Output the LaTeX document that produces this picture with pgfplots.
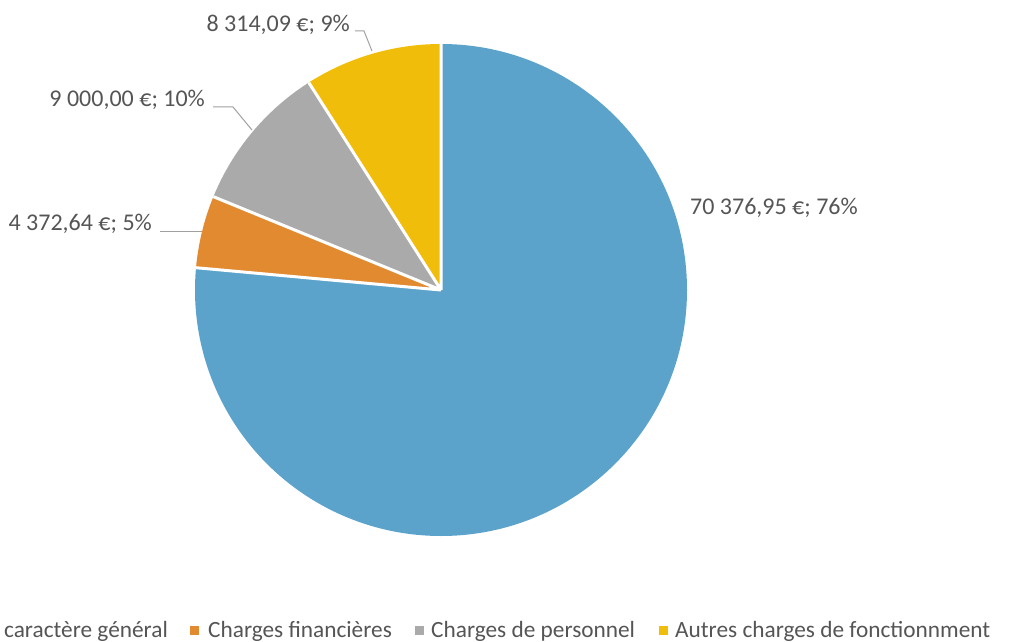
\documentclass[border=0pt]{standalone}
\usepackage{pgfplots}
\pgfplotsset{compat=1.18}
\usepackage{pgfplotstable}
\usepackage{fontspec}
\setmainfont{Carlito}

\definecolor{cblue}{RGB}{92,163,204}
\definecolor{corange}{RGB}{226,138,48}
\definecolor{cgray}{RGB}{170,170,170}
\definecolor{cyellow}{RGB}{240,190,10}
\definecolor{ctext}{RGB}{85,85,85}
\definecolor{cline}{RGB}{160,160,160}
\tikzset{lbl/.style={font=\fontsize{24}{28}\selectfont, text=ctext, inner sep=0pt},
         leg/.style={font=\fontsize{23.3}{28}\selectfont, text=ctext, inner sep=0pt}}

% montants en euros, dans l'ordre du graphique (sens horaire depuis midi)
\pgfplotstableread{
value
70376.95
4372.64
9000.00
8314.09
}\piedata

\begin{document}
\begin{tikzpicture}
\pgfplotstablegetelem{0}{value}\of\piedata \let\va\pgfplotsretval
\pgfplotstablegetelem{1}{value}\of\piedata \let\vb\pgfplotsretval
\pgfplotstablegetelem{2}{value}\of\piedata \let\vc\pgfplotsretval
\pgfplotstablegetelem{3}{value}\of\piedata \let\vd\pgfplotsretval
\edef\tot{\fpeval{\va+\vb+\vc+\vd}}
\edef\aA{\fpeval{90-360*\va/\tot}}
\edef\aB{\fpeval{\aA-360*\vb/\tot}}
\edef\aC{\fpeval{\aB-360*\vc/\tot}}
\edef\aD{\fpeval{\aC-360*\vd/\tot}}
\def\R{246pt}
\begin{axis}[
    at={(0,0)}, anchor=south west,
    width=1010pt, height=641pt, scale only axis,
    xmin=0, xmax=1010, ymin=0, ymax=641,
    hide axis, clip=false,
]
    \addplot[draw=none] coordinates {(0,0) (1010,641)};

    % parts
    \fill[cblue]   (axis cs:441,351) -- ++(90:\R)  arc[start angle=90,  end angle=\aA, radius=\R] -- cycle;
    \fill[corange] (axis cs:441,351) -- ++(\aA:\R) arc[start angle=\aA, end angle=\aB, radius=\R] -- cycle;
    \fill[cgray]   (axis cs:441,351) -- ++(\aB:\R) arc[start angle=\aB, end angle=\aC, radius=\R] -- cycle;
    \fill[cyellow] (axis cs:441,351) -- ++(\aC:\R) arc[start angle=\aC, end angle=\aD, radius=\R] -- cycle;
    % bordures blanches
    \draw[white, line width=3pt, line join=round]
        (axis cs:441,351) -- ++(90:\R)
        (axis cs:441,351) -- ++(\aA:\R)
        (axis cs:441,351) -- ++(\aB:\R)
        (axis cs:441,351) -- ++(\aC:\R);

    % etiquettes
    \node[lbl, anchor=base west] at (axis cs:690,426) {70 376,95 €; 76\%};
    \node[lbl, anchor=base east] at (axis cs:152,410) {4 372,64 €; 5\%};
    \node[lbl, anchor=base east] at (axis cs:205,534) {9 000,00 €; 10\%};
    \node[lbl, anchor=base east] at (axis cs:350,609) {8 314,09 €; 9\%};
    \draw[cline, line width=1pt] (axis cs:160,409) -- (axis cs:202,409);
    \draw[cline, line width=1pt] (axis cs:213,534) -- (axis cs:233,534) -- (axis cs:252,511);
    \draw[cline, line width=1pt] (axis cs:355,610) -- (axis cs:364,610) -- (axis cs:372,590);

    % legende
    \node[leg, anchor=base east] (l1) at (axis cs:168,4) {Charges à caractère général};
    \fill[cblue] ([shift={(-18pt,2pt)}]l1.base west) rectangle ++(9pt,9pt);
    \fill[corange] (axis cs:190,6) rectangle (axis cs:199,15);
    \node[leg, anchor=base west] at (axis cs:208,4) {Charges financières};
    \fill[cgray] (axis cs:415,6) rectangle (axis cs:424,15);
    \node[leg, anchor=base west] at (axis cs:431,4) {Charges de personnel};
    \fill[cyellow] (axis cs:659,6) rectangle (axis cs:668,15);
    \node[leg, anchor=base west] at (axis cs:675,4) {Autres charges de fonctionnment};
\end{axis}
\pgfresetboundingbox
\path[use as bounding box] (0,0) rectangle (1010pt,641pt);
\end{tikzpicture}
\end{document}
